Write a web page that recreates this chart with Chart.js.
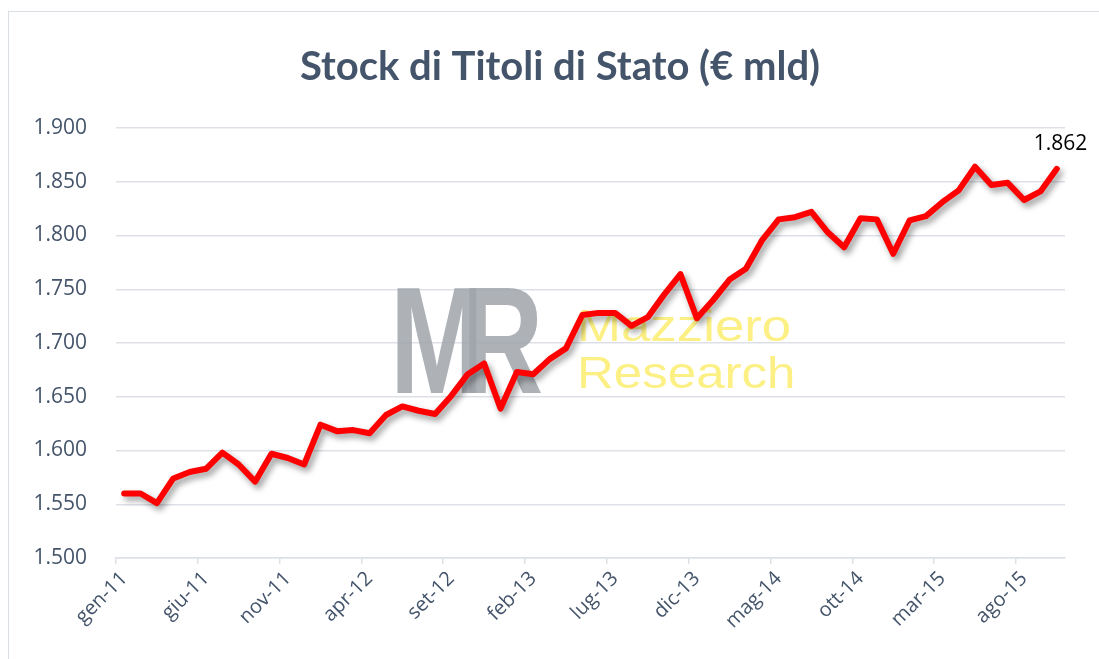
<!DOCTYPE html>
<html>
<head>
<meta charset="utf-8">
<script src="https://cdn.jsdelivr.net/npm/chart.js@4"></script>
<style>
  html, body { margin: 0; padding: 0; background: #fff; overflow: hidden; }
  #wrap { position: relative; width: 1099px; height: 659px; }
  #frame { position: absolute; left: 8px; top: 11px; width: 1200px; height: 700px;
           border: 1.5px solid #d9dee5; box-sizing: border-box; }
  canvas { position: absolute; left: 0; top: 0; }
</style>
</head>
<body>
<div id="wrap">
  <div id="frame"></div>
  <canvas id="chart" width="1099" height="659"></canvas>
</div>
<script>
'use strict';

// monthly stock of government bonds, € bn (gen-11 .. ott-15)
const months = [
  'gen-11','feb-11','mar-11','apr-11','mag-11','giu-11','lug-11','ago-11','set-11','ott-11','nov-11','dic-11',
  'gen-12','feb-12','mar-12','apr-12','mag-12','giu-12','lug-12','ago-12','set-12','ott-12','nov-12','dic-12',
  'gen-13','feb-13','mar-13','apr-13','mag-13','giu-13','lug-13','ago-13','set-13','ott-13','nov-13','dic-13',
  'gen-14','feb-14','mar-14','apr-14','mag-14','giu-14','lug-14','ago-14','set-14','ott-14','nov-14','dic-14',
  'gen-15','feb-15','mar-15','apr-15','mag-15','giu-15','lug-15','ago-15','set-15','ott-15'
];
const stock = [
  1560, 1560, 1551, 1574, 1580, 1583, 1598, 1587, 1571, 1597, 1593, 1587,
  1624, 1618, 1619, 1616, 1633, 1641, 1637, 1634, 1651, 1671, 1681, 1639,
  1673, 1671, 1685, 1695, 1726, 1728, 1728, 1716, 1724, 1745, 1764, 1723,
  1740, 1759, 1769, 1796, 1815, 1817, 1822, 1803, 1789, 1816, 1815, 1783,
  1814, 1818, 1831, 1842, 1864, 1847, 1849, 1833, 1841, 1862
];
const labelEvery = 5;
const yMin = 1500, yMax = 1900, yStep = 50;

const titleText = 'Stock di Titoli di Stato (€ mld)';
const slate = '#44546a';
const gridCol = '#dde1e7';

const fmt = v => (v / 1000).toFixed(3);

// ── title, watermark, line shadow, last value label ─────────────────────
const decor = {
  id: 'decor',
  beforeDatasetsDraw(chart) {
    const c = chart.ctx;
    c.save();
    // MR logo (grey)
    c.fillStyle = 'rgba(160,165,170,0.85)';
    c.font = 'bold 152px "Liberation Sans"';
    c.textBaseline = 'alphabetic';
    c.save(); c.translate(390, 393); c.scale(0.74, 1); c.fillText('M', 0, 0); c.restore();
    c.save(); c.translate(462, 393); c.scale(0.74, 1); c.fillText('R', 0, 0); c.restore();
    // Mazziero Research (yellow)
    c.fillStyle = 'rgba(250,230,50,0.6)';
    c.font = '44px "Liberation Sans"';
    c.save(); c.translate(577, 341); c.scale(1.2, 1); c.fillText('Mazziero', 0, 0); c.restore();
    c.save(); c.translate(577, 388); c.scale(1.16, 1); c.fillText('Research', 0, 0); c.restore();
    c.restore();
  },
  beforeDatasetDraw(chart) {
    const c = chart.ctx;
    c.save();
    c.shadowColor = 'rgba(0,0,0,0.4)';
    c.shadowBlur = 6;
    c.shadowOffsetX = 3;
    c.shadowOffsetY = 4;
  },
  afterDatasetDraw(chart) {
    chart.ctx.restore();
  },
  afterDraw(chart) {
    const c = chart.ctx;
    c.save();
    c.fillStyle = slate;
    c.font = 'bold 40px Lato';
    c.textAlign = 'center';
    c.textBaseline = 'alphabetic';
    c.fillText(titleText, 560, 80);

    const pts = chart.getDatasetMeta(0).data;
    const last = pts[pts.length - 1];
    c.fillStyle = '#000';
    c.font = '21px "Open Sans"';
    c.textAlign = 'left';
    c.fillText(fmt(stock[stock.length - 1]), last.x - 23, last.y - 19);
    c.restore();
  }
};

new Chart(document.getElementById('chart'), {
  type: 'line',
  data: {
    labels: months,
    datasets: [{
      data: stock,
      borderColor: '#ff0000',
      backgroundColor: 'transparent',
      borderWidth: 6,
      borderJoinStyle: 'round',
      borderCapStyle: 'round',
      pointRadius: 0,
      tension: 0
    }]
  },
  options: {
    responsive: false,
    animation: false,
    layout: { padding: { top: 128, right: 34, left: 0, bottom: 0 } },
    plugins: {
      legend: { display: false },
      title: { display: false },
      tooltip: { enabled: false }
    },
    scales: {
      x: {
        offset: true,
        afterFit: s => { s.height = 101; },
        grid: {
          offset: true,
          drawOnChartArea: false,
          tickLength: 6,
          lineWidth: 1.5,
          color: ctx => (ctx.index % labelEvery === 0 ? gridCol : 'transparent')
        },
        border: { display: true, color: gridCol, width: 1.5 },
        ticks: {
          autoSkip: false,
          minRotation: 45,
          maxRotation: 45,
          padding: 3,
          color: slate,
          font: { family: 'Open Sans', size: 20 },
          callback: (v, i) => (i % labelEvery === 0 ? months[i] : '')
        }
      },
      y: {
        min: yMin,
        max: yMax,
        afterFit: s => { s.width = 116; },
        grid: { color: gridCol, lineWidth: 1.5, drawTicks: false },
        border: { display: false },
        ticks: {
          stepSize: yStep,
          padding: 29,
          color: slate,
          font: { family: 'Open Sans', size: 21 },
          callback: v => fmt(v)
        }
      }
    }
  },
  plugins: [decor]
});
</script>
</body>
</html>
